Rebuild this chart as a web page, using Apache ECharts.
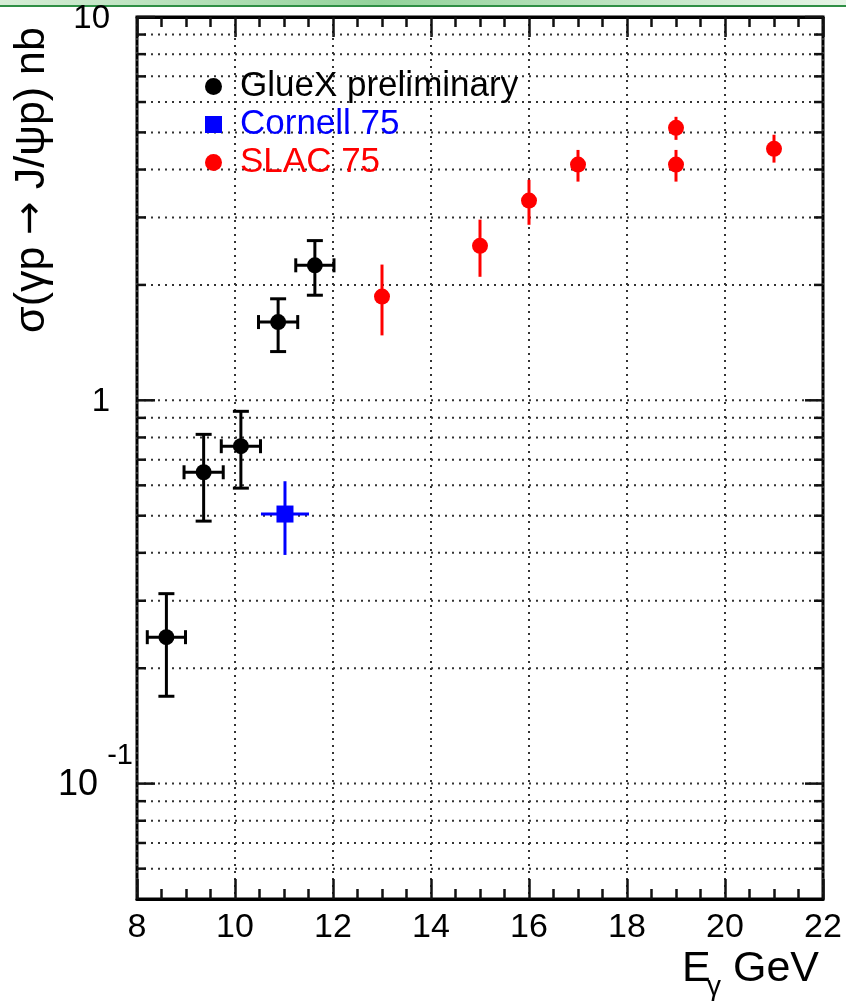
<!DOCTYPE html>
<html>
<head>
<meta charset="utf-8">
<script src="https://cdn.jsdelivr.net/npm/echarts@6/dist/echarts.min.js"></script>
<style>
  html, body { margin: 0; padding: 0; background: #fff; }
  #chart { width: 846px; height: 1007px; }
</style>
</head>
<body>
<div id="chart"></div>
<script>
'use strict';
// J/psi photoproduction cross section vs photon energy (log y)
const FONT = '"Liberation Sans", Arial, sans-serif';

// ---------- data ----------
// GlueX preliminary
const gluexE = [8.6, 9.36, 10.12, 10.88, 11.63];
const gluexEErr = [0.39, 0.4, 0.4, 0.4, 0.39];
const gluexSigma = [0.241, 0.649, 0.759, 1.60, 2.25];
const gluexLow = [0.169, 0.484, 0.590, 1.34, 1.88];
const gluexHigh = [0.313, 0.815, 0.936, 1.84, 2.61];
// Cornell 75
const cornellE = [11.02];
const cornellEErr = [0.49];
const cornellSigma = [0.505];
const cornellLow = [0.395];
const cornellHigh = [0.615];
// SLAC 75
const slacE = [13, 15, 16, 17, 19, 19, 21];
const slacSigma = [1.865, 2.53, 3.32, 4.12, 5.14, 4.12, 4.53];
const slacLow = [1.477, 2.10, 2.87, 3.72, 4.78, 3.72, 4.17];
const slacHigh = [2.26, 2.96, 3.76, 4.50, 5.49, 4.50, 4.93];

// axes
const xMin = 8, xMax = 22, xStep = 2;
const yMin = 0.05, yMax = 10;
const yGridValues = [0.06, 0.07, 0.08, 0.09, 0.1, 0.2, 0.3, 0.4, 0.5, 0.6, 0.7, 0.8, 0.9,
  1, 2, 3, 4, 5, 6, 7, 8, 9, 10];
const yMajorValues = [0.1, 1, 10];
const yTickLabels = ['10', '1', '10'];
const yTickExps = ['-1', '', ''];

// ---------- helpers ----------
const rows = (e, s, lo, hi, err) => e.map((x, i) => [x, s[i], x - (err ? err[i] : 0), x + (err ? err[i] : 0), lo[i], hi[i]]);

function errorBars(color, caps) {
  return function (params, api) {
    const x = api.value(0), y = api.value(1);
    const c = api.coord([x, y]);
    const top = api.coord([x, api.value(5)]);
    const bot = api.coord([x, api.value(4)]);
    const st = { stroke: color, lineWidth: 3 };
    const kids = [{ type: 'line', shape: { x1: c[0], y1: top[1], x2: c[0], y2: bot[1] }, style: st }];
    if (api.value(2) !== api.value(3)) {
      const l = api.coord([api.value(2), y]);
      const r = api.coord([api.value(3), y]);
      kids.push({ type: 'line', shape: { x1: l[0], y1: c[1], x2: r[0], y2: c[1] }, style: st });
      if (caps) {
        kids.push({ type: 'line', shape: { x1: l[0], y1: c[1] - 7, x2: l[0], y2: c[1] + 7 }, style: st });
        kids.push({ type: 'line', shape: { x1: r[0], y1: c[1] - 7, x2: r[0], y2: c[1] + 7 }, style: st });
      }
    }
    if (caps) {
      kids.push({ type: 'line', shape: { x1: c[0] - 8, y1: top[1], x2: c[0] + 8, y2: top[1] }, style: st });
      kids.push({ type: 'line', shape: { x1: c[0] - 8, y1: bot[1], x2: c[0] + 8, y2: bot[1] }, style: st });
    }
    return { type: 'group', children: kids };
  };
}

// dotted horizontal grid + inward ticks on both sides (log minor positions)
function yDecor(params, api) {
  const v = api.value(1);
  const major = api.value(2) === 1;
  const p0 = api.coord([xMin, v]);
  const p1 = api.coord([xMax, v]);
  const len = major ? 18 : 9;
  const tick = { stroke: '#111', lineWidth: 2.5 };
  const kids = [
    { type: 'line', shape: { x1: p0[0], y1: p0[1], x2: p0[0] + len, y2: p0[1] }, style: tick },
    { type: 'line', shape: { x1: p1[0] - len, y1: p1[1], x2: p1[0], y2: p1[1] }, style: tick }
  ];
  if (v < yMax) {
    kids.unshift({ type: 'line', shape: { x1: p0[0], y1: p0[1], x2: p1[0], y2: p1[1] },
      style: { stroke: '#333', lineWidth: 2, lineDash: [2, 5] } });
  }
  return { type: 'group', children: kids };
}

function yLabels(params, api) {
  const i = api.value(2);
  const p = api.coord([xMin, api.value(1)]);
  const exp = yTickExps[i];
  if (!exp) {
    return { type: 'text', x: p[0] - 27, y: p[1] + 2,
      style: { text: yTickLabels[i], font: '33px ' + FONT, fill: '#000', align: 'right', verticalAlign: 'middle' } };
  }
  return { type: 'group', children: [
    { type: 'text', x: p[0] - 39, y: p[1] + 1,
      style: { text: yTickLabels[i], font: '36px ' + FONT, fill: '#000', align: 'right', verticalAlign: 'middle' } },
    { type: 'text', x: p[0] - 4, y: p[1] - 28,
      style: { text: exp, font: '29px ' + FONT, fill: '#000', align: 'right', verticalAlign: 'middle' } }
  ] };
}

const xAxisBase = {
  type: 'value', min: xMin, max: xMax, interval: xStep,
  axisLine: { show: true, lineStyle: { color: '#000', width: 3 } },
  axisTick: { show: true, inside: true, length: 20, lineStyle: { color: '#111', width: 2.5 } },
  minorTick: { show: true, splitNumber: 4, length: 10, lineStyle: { color: '#111', width: 2.5 } }
};

const chart = echarts.init(document.getElementById('chart'));
chart.setOption({
  backgroundColor: '#fff',
  animation: false,
  grid: { left: 137, right: 23, top: 17, bottom: 108, show: true, borderColor: '#000', borderWidth: 3, backgroundColor: 'transparent' },
  legend: {
    left: 200, top: 64, orient: 'vertical', itemGap: 3, itemWidth: 17, itemHeight: 17, selectedMode: false,
    textStyle: { fontFamily: FONT, fontSize: 35, padding: [0, 0, 0, 13] },
    data: [
      { name: 'GlueX preliminary', icon: 'circle', textStyle: { color: '#000' } },
      { name: 'Cornell 75', icon: 'rect', textStyle: { color: '#0000ff' } },
      { name: 'SLAC 75', icon: 'circle', textStyle: { color: '#ff0000' } }
    ]
  },
  xAxis: [
    Object.assign({}, xAxisBase, {
      position: 'bottom',
      axisLabel: { color: '#000', fontFamily: FONT, fontSize: 34, margin: 12, showMinLabel: true, showMaxLabel: true },
      splitLine: { show: true, lineStyle: { color: '#333', width: 2, type: [2, 5] } }
    }),
    Object.assign({}, xAxisBase, {
      position: 'top', axisLabel: { show: false }, splitLine: { show: false }
    })
  ],
  yAxis: {
    type: 'log', logBase: 10, min: yMin, max: yMax,
    axisLine: { show: false }, axisTick: { show: false }, axisLabel: { show: false }, splitLine: { show: false }
  },
  graphic: [
    { type: 'rect', left: 0, top: 0, shape: { width: 846, height: 5 },
      style: { fill: new echarts.graphic.LinearGradient(0, 0, 1, 0, [
        { offset: 0, color: '#d6edd6' }, { offset: 0.45, color: '#93d39b' }, { offset: 1, color: '#e6f4e6' }]) } },
    { type: 'rect', left: 0, top: 5, shape: { width: 846, height: 2 }, style: { fill: '#2f8f45' } },
    { type: 'text', x: 32, y: 180, rotation: Math.PI / 2,
      style: { text: '{t|σ(γp }{a|→}{t| J/ψp) nb}', fill: '#000', align: 'center', verticalAlign: 'middle',
        rich: { t: { font: '43px ' + FONT, fill: '#000' }, a: { font: '40px "DejaVu Sans"', fill: '#000' } } } },
    { type: 'text', x: 682, y: 969,
      style: { text: 'E', font: '43px ' + FONT, fill: '#000', align: 'left', verticalAlign: 'middle' } },
    { type: 'text', x: 707, y: 987,
      style: { text: 'γ', font: '28px ' + FONT, fill: '#000', align: 'left', verticalAlign: 'middle' } },
    { type: 'text', x: 733, y: 969,
      style: { text: 'GeV', font: '43px ' + FONT, fill: '#000', align: 'left', verticalAlign: 'middle' } }
  ],
  series: [
    { type: 'custom', name: 'ygrid', renderItem: yDecor, clip: false, silent: true, z: 1,
      encode: { x: 0, y: 1 }, data: yGridValues.map((v) => [xMin, v, yMajorValues.includes(v) ? 1 : 0]) },
    { type: 'custom', name: 'ylabels', renderItem: yLabels, clip: false, silent: true, z: 1,
      encode: { x: 0, y: 1 }, data: yMajorValues.map((v, i) => [xMin, v, i]) },
    { type: 'custom', name: 'gluexErr', renderItem: errorBars('#000', true), z: 3,
      encode: { x: 0, y: 1 }, data: rows(gluexE, gluexSigma, gluexLow, gluexHigh, gluexEErr) },
    { type: 'custom', name: 'cornellErr', renderItem: errorBars('#0000ff', false), z: 3,
      encode: { x: 0, y: 1 }, data: rows(cornellE, cornellSigma, cornellLow, cornellHigh, cornellEErr) },
    { type: 'custom', name: 'slacErr', renderItem: errorBars('#ff0000', false), z: 3,
      encode: { x: 0, y: 1 }, data: rows(slacE, slacSigma, slacLow, slacHigh, null) },
    { type: 'scatter', name: 'GlueX preliminary', symbol: 'circle', symbolSize: 16, z: 4,
      itemStyle: { color: '#000', opacity: 1 }, data: gluexE.map((x, i) => [x, gluexSigma[i]]) },
    { type: 'scatter', name: 'Cornell 75', symbol: 'rect', symbolSize: 17, z: 4,
      itemStyle: { color: '#0000ff', opacity: 1 }, data: cornellE.map((x, i) => [x, cornellSigma[i]]) },
    { type: 'scatter', name: 'SLAC 75', symbol: 'circle', symbolSize: 16, z: 4,
      itemStyle: { color: '#ff0000', opacity: 1 }, data: slacE.map((x, i) => [x, slacSigma[i]]) }
  ]
});
</script>
</body>
</html>
